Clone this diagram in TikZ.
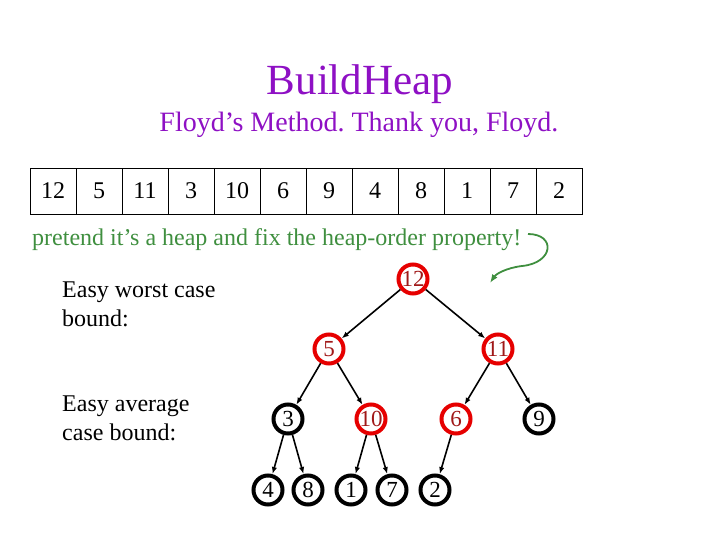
\documentclass[tikz,border=0pt]{standalone}
\usepackage{fontspec}
\setmainfont{Liberation Serif}
\frenchspacing
\usetikzlibrary{positioning,arrows.meta}
\definecolor{heapPurple}{HTML}{8E10C4}
\definecolor{heapGreen}{HTML}{3F8F3F}
\definecolor{heapRed}{HTML}{E60000}
\definecolor{heapDark}{HTML}{A01818}

\begin{document}
\begin{tikzpicture}[x=1pt,y=-1pt,
          cell/.style={draw, line width=0.8pt, minimum width=46pt, minimum height=46pt,
                       inner sep=0pt, font=\fontsize{24}{24}\selectfont},
          hn/.style={circle, draw, line width=4pt, minimum size=29pt, inner sep=0pt,
                     font=\fontsize{23}{23}\selectfont},
          fixd/.style={hn, draw=heapRed, text=heapDark},
          txt/.style={align=left, inner sep=0pt, font=\fontsize{24}{29}\selectfont},
          every node/.style={align=center}]
        \useasboundingbox (0,0) rectangle (720,540);
        % titles
        \node[anchor=base, text=heapPurple, font=\fontsize{43}{43}\selectfont] (title) at (360,95) {BuildHeap};
        \node[anchor=base, text=heapPurple, font=\fontsize{28}{28}\selectfont] (sub) at (359,132) {Floyd’s Method. Thank you, Floyd.};
        % the array
        \foreach \v [count=\i] in {12,5,11,3,10,6,9,4,8,1,7,2}
          \node[cell] (c\i) at (7+46*\i,191) {\v};
        \node[txt, anchor=base west, text=heapGreen] (hint) at (32,245) {pretend it’s a heap and fix the heap-order property!};
        \coordinate (bendA) at (528,234);
        \coordinate (bendM) at (522,266);
        \coordinate (bendB) at (490,283);
        \draw[-{Latex[length=3mm]}, heapGreen, line width=1.8pt]
          (bendA) .. controls (556,234) and (554,263) .. (bendM)
                  .. controls (506,268) and (496,274) .. (bendB);
        % side notes
        \node[txt, anchor=base west] (worst) at (62,326) {Easy worst case\\bound:};
        \node[txt, anchor=base west] (avg) at (62,440) {Easy average\\case bound:};
        % the tree
        \node[fixd] (n12) at (413,279) {12};
        \node[fixd] (n5)  at (329,349) {5};
        \node[fixd] (n11) at (498,349) {11};
        \node[hn]   (n3)  at (288,419) {3};
        \node[fixd] (n10) at (371,419) {10};
        \node[fixd] (n6)  at (456,419) {6};
        \node[hn]   (n9)  at (539,419) {9};
        \node[hn]   (n4)  at (268,490) {4};
        \node[hn]   (n8)  at (308,490) {8};
        \node[hn]   (n1)  at (351,490) {1};
        \node[hn]   (n7)  at (392,490) {7};
        \node[hn]   (n2)  at (435,490) {2};
        \foreach \a/\b in {n12/n5,n12/n11,n5/n3,n5/n10,n11/n6,n11/n9,n3/n4,n3/n8,n10/n1,n10/n7,n6/n2}
          \draw[-{Latex[length=2.5mm]}, line width=1.6pt] (\a) -- (\b);
      \end{tikzpicture}
\end{document}
